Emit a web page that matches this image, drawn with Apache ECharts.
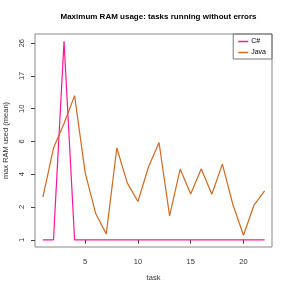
<!DOCTYPE html>
<html><head><meta charset="utf-8">
<script src="https://cdn.jsdelivr.net/npm/echarts@6/dist/echarts.min.js"></script>
<style>html,body{margin:0;padding:0;background:#fff}#c{width:291px;height:291px}</style>
</head><body><div id="c"></div>
<script>
const tasks = [1,2,3,4,5,6,7,8,9,10,11,12,13,14,15,16,17,18,19,20,21,22];
const csharp = [1,1,26.5,1,1,1,1,1,1,1,1,1,1,1,1,1,1,1,1,1,1,1];
const java = [2.6,5.6,8.2,12.8,4.1,1.8,1.18,5.6,3.46,2.34,4.44,5.94,1.73,4.32,2.8,4.34,2.78,4.62,2.14,1.14,2.12,2.98];
const yTickLabels = [1,2,4,6,10,17,26];
const xTickLabels = [5,10,15,20];

// map a value onto the evenly spaced tick scale of the y axis
function toPos(v){
  const L = yTickLabels;
  let i = 0;
  while (i < L.length - 2 && v > L[i+1]) i++;
  return i + (v - L[i]) / (L[i+1] - L[i]);
}
const yPos = yTickLabels.map((_, i) => i);

const font = 'Liberation Sans, Arial, sans-serif';
const chart = echarts.init(document.getElementById('c'), null, {renderer:'canvas'});
chart.setOption({
  animation:false,
  title:{text:'Maximum RAM usage: tasks running without errors', left:153.5, top:8, textAlign:'center',
    textStyle:{fontFamily:font, fontSize:8, fontWeight:'bold', color:'#000'}},
  legend:{right:19, top:34, orient:'vertical', borderColor:'#777', borderWidth:1, padding:[4,6,3,5],
    itemWidth:10, itemHeight:1.5, itemGap:4, icon:'rect',
    textStyle:{fontFamily:font, fontSize:7, color:'#000', padding:[0,0,0,-2]},
    data:['C#','Java']},
  grid:{left:35, right:19, top:34, bottom:44, show:true, borderColor:'#888', borderWidth:1,
    containLabel:false, outerBoundsMode:'none'},
  xAxis:{type:'value', min:0.25, max:22.7, name:'task', nameLocation:'middle', nameGap:27,
    nameTextStyle:{fontFamily:font, fontSize:7.5, color:'#333'},
    axisLine:{show:false}, splitLine:{show:false},
    axisTick:{show:true, length:4, customValues:xTickLabels, lineStyle:{color:'#444'}},
    axisLabel:{customValues:xTickLabels, fontFamily:font, fontSize:7.5, color:'#333', margin:11}},
  yAxis:{type:'value', min:-0.22, max:6.28, name:'max RAM used (mean)', nameLocation:'middle', nameGap:24,
    nameTextStyle:{fontFamily:font, fontSize:7.5, color:'#333'},
    axisLine:{show:false}, splitLine:{show:false},
    axisTick:{show:true, length:4, customValues:yPos, lineStyle:{color:'#444'}},
    axisLabel:{customValues:yPos, rotate:90, fontFamily:font, fontSize:7.5, color:'#333', margin:9,
      formatter:v => String(yTickLabels[Math.round(v)])}},
  series:[
    {name:'C#', type:'line', data:tasks.map((t,i)=>[t,toPos(csharp[i])]), showSymbol:false,
      lineStyle:{color:'#FF1493', width:1.2}, itemStyle:{color:'#FF1493'}},
    {name:'Java', type:'line', data:tasks.map((t,i)=>[t,toPos(java[i])]), showSymbol:false,
      lineStyle:{color:'#D2691E', width:1.2}, itemStyle:{color:'#D2691E'}}
  ]
});
</script></body></html>
